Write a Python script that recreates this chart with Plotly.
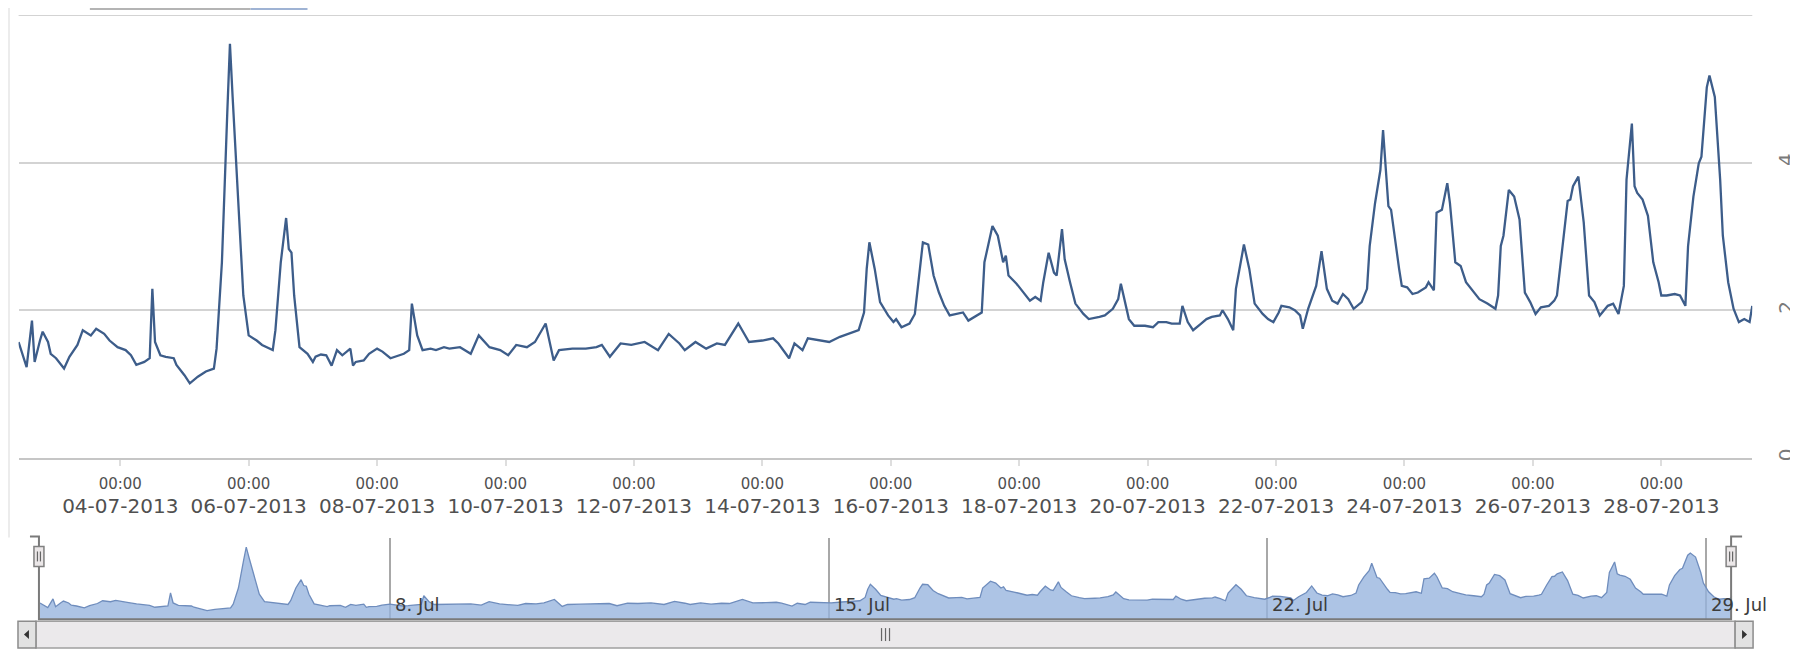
import pandas as pd
import plotly.graph_objects as go

# ---------------- data (hours since 2013-07-02 00:00, hourly readings) ----------------
START = "2013-07-02 00:00"

HOURS_A = [10, 13, 15, 16, 18, 19, 21, 22, 24, 27, 29, 32, 34, 37, 39, 42, 44, 47, 50, 52,
           54, 57, 59, 60, 61, 63, 65, 68, 69, 72, 74, 77, 80, 83, 84, 86, 88, 89, 90, 92,
           94, 96, 99, 101, 105, 106, 108, 110, 111, 112, 113, 115, 118, 120, 121, 123, 125, 127, 129, 131,
           134, 135, 136, 139, 141, 144, 146, 149, 151, 154, 156, 157, 159, 161, 164, 166, 169, 171]
VALUES_A = [1.57, 1.23, 1.86, 1.30, 1.59, 1.71, 1.57, 1.41, 1.35, 1.21, 1.37, 1.53, 1.73, 1.66, 1.75, 1.68, 1.59, 1.50, 1.46, 1.39,
            1.26, 1.30, 1.35, 2.29, 1.57, 1.39, 1.37, 1.35, 1.26, 1.12, 1.01, 1.10, 1.17, 1.21, 1.48, 2.65, 4.67, 5.61, 4.89, 3.54,
            2.20, 1.66, 1.59, 1.53, 1.46, 1.73, 2.65, 3.25, 2.83, 2.78, 2.20, 1.50, 1.41, 1.30, 1.37, 1.40, 1.39, 1.25, 1.46, 1.39,
            1.48, 1.25, 1.30, 1.32, 1.41, 1.48, 1.44, 1.35, 1.37, 1.41, 1.46, 2.09, 1.66, 1.46, 1.48, 1.46, 1.50, 1.48]

HOURS_B = [175, 179, 182, 186, 190, 193, 196, 200, 203, 207, 210, 212, 217, 222, 226, 228, 231, 235, 239, 244,
           249, 253, 257, 259, 263, 267, 271, 274, 279, 283, 288, 292, 294, 298, 300, 303, 305, 309, 313, 317,
           320, 324, 326, 327, 328]
VALUES_B = [1.50, 1.41, 1.66, 1.50, 1.46, 1.39, 1.53, 1.50, 1.57, 1.82, 1.32, 1.46, 1.48, 1.48, 1.50, 1.53, 1.37, 1.55, 1.53, 1.57,
            1.46, 1.68, 1.55, 1.46, 1.57, 1.48, 1.55, 1.53, 1.82, 1.57, 1.59, 1.62, 1.55, 1.35, 1.55, 1.46, 1.62, 1.59, 1.57, 1.64,
            1.68, 1.73, 1.97, 2.56, 2.92]

HOURS_C = [330, 332, 335, 337, 338, 340, 343, 345, 347, 348, 350, 352, 354, 356, 358, 361, 363, 365, 368, 370,
           371, 373, 374, 376, 378, 379, 380, 383, 385, 388, 390, 392, 393, 395, 397, 398, 400, 401, 403, 405,
           408, 410, 414, 416, 419, 421, 422, 424, 425, 427, 431, 434, 436, 439, 441, 444, 445, 447, 449, 452,
           454, 456, 459, 460, 462, 464, 465, 467, 468, 470, 472, 475, 477, 479, 481, 482, 485, 487, 489, 490,
           492]
VALUES_C = [2.56, 2.11, 1.93, 1.84, 1.88, 1.77, 1.82, 1.95, 2.65, 2.92, 2.89, 2.47, 2.24, 2.06, 1.93, 1.95, 1.97, 1.86, 1.93, 1.97,
            2.65, 3.01, 3.14, 3.01, 2.65, 2.74, 2.47, 2.36, 2.27, 2.13, 2.18, 2.13, 2.38, 2.78, 2.51, 2.47, 3.10, 2.69, 2.38, 2.09,
            1.95, 1.88, 1.91, 1.93, 2.02, 2.15, 2.36, 2.06, 1.88, 1.79, 1.79, 1.77, 1.84, 1.84, 1.82, 1.82, 2.06, 1.84, 1.73, 1.82,
            1.88, 1.91, 1.93, 2.00, 1.88, 1.73, 2.29, 2.69, 2.89, 2.56, 2.09, 1.95, 1.88, 1.84, 1.97, 2.06, 2.04, 2.00, 1.93, 1.75,
            2.02]

HOURS_D = [495, 497, 499, 501, 503, 505, 507, 509, 512, 514, 515, 517, 519, 520, 522, 523, 526, 527, 529, 531,
           533, 536, 537, 539, 540, 542, 544, 545, 547, 549, 551, 554, 556, 559, 562, 563, 564, 565, 567, 569,
           571, 573, 575, 577, 579, 582, 584, 585, 587, 589, 590, 591, 593, 595, 597, 599, 601, 604, 606, 608,
           610, 611, 613, 614, 615, 617, 619, 621, 623, 624, 626, 629, 631, 633, 634, 636, 638, 639, 641, 642,
           644, 646, 647, 649, 651, 653, 655, 657, 658]
VALUES_D = [2.33, 2.80, 2.29, 2.13, 2.09, 2.22, 2.15, 2.02, 2.11, 2.29, 2.87, 3.45, 3.90, 4.44, 3.41, 3.36, 2.56, 2.33, 2.31, 2.22,
            2.24, 2.31, 2.38, 2.27, 3.32, 3.36, 3.72, 3.45, 2.65, 2.60, 2.38, 2.24, 2.15, 2.09, 2.02, 2.20, 2.87, 3.01, 3.63, 3.54,
            3.23, 2.24, 2.11, 1.95, 2.04, 2.06, 2.13, 2.20, 2.87, 3.48, 3.50, 3.68, 3.81, 3.19, 2.20, 2.11, 1.93, 2.06, 2.09, 1.95,
            2.33, 3.77, 4.53, 3.68, 3.59, 3.50, 3.28, 2.65, 2.38, 2.20, 2.20, 2.22, 2.20, 2.06, 2.87, 3.54, 3.99, 4.08, 5.02, 5.18,
            4.89, 3.77, 3.01, 2.38, 2.02, 1.84, 1.88, 1.84, 2.06]

HOURS = HOURS_A + HOURS_B + HOURS_C + HOURS_D
VALUES = VALUES_A + VALUES_B + VALUES_C + VALUES_D
assert len(HOURS) == len(VALUES)

TICK_DATES = ["2013-07-04", "2013-07-06", "2013-07-08", "2013-07-10", "2013-07-12", "2013-07-14", "2013-07-16",
              "2013-07-18", "2013-07-20", "2013-07-22", "2013-07-24", "2013-07-26", "2013-07-28"]
TICK_DATE_LABELS = ["04-07-2013", "06-07-2013", "08-07-2013", "10-07-2013", "12-07-2013", "14-07-2013", "16-07-2013",
                    "18-07-2013", "20-07-2013", "22-07-2013", "24-07-2013", "26-07-2013", "28-07-2013"]
TICK_TIME_LABEL = "00:00"

Y_TICKS = [0, 2, 4]
Y_LABELS = ["0", "2", "4"]
Y_TOP = 6

NAV_DATES = ["2013-07-08", "2013-07-15", "2013-07-22", "2013-07-29"]
NAV_LABELS = ["8. Jul", "15. Jul", "22. Jul", "29. Jul"]

# ---------------- layout helpers (screen pixel -> paper; page body has an 8px margin) ----------------
OFF = 8
W, H = 1798 - OFF, 653 - OFF


def fx(p):
    return (p - OFF) / W


def fy(p):
    return 1 - (p - OFF) / H


times = pd.Timestamp(START) + pd.to_timedelta(HOURS, unit="h")

fig = go.Figure()

fig.add_trace(go.Scatter(
    x=times, y=VALUES, mode="lines", xaxis="x", yaxis="y",
    line=dict(color="#3d5d8a", width=2.3), hoverinfo="skip", showlegend=False))

fig.add_trace(go.Scatter(
    x=times, y=VALUES, mode="lines", xaxis="x2", yaxis="y2", fill="tozeroy",
    fillcolor="rgba(150,180,222,0.78)", line=dict(color="#6f8dbd", width=1.3),
    hoverinfo="skip", showlegend=False))

ticktext = [f"<span style='font-size:15px'>{TICK_TIME_LABEL}</span><br>"
            f"<span style='font-size:20px'>{d}</span>" for d in TICK_DATE_LABELS]

MAIN_X = [fx(18.6), fx(1755.2)]

fig.update_layout(
    width=W, height=H, margin=dict(l=0, r=0, t=0, b=0),
    paper_bgcolor="white", plot_bgcolor="white",
    font=dict(family="DejaVu Sans", color="#4a4a4a"),
    xaxis=dict(
        domain=MAIN_X, anchor="y", type="date",
        range=[times[0], times[-1]],
        tickmode="array", tickvals=TICK_DATES, ticktext=ticktext,
        tickfont=dict(size=19, color="#505050", family="DejaVu Sans"),
        showgrid=False, zeroline=False,
        showline=True, linecolor="#c6c6c6", linewidth=2,
        ticks="outside", ticklen=6, tickcolor="#dedede", tickwidth=2,
    ),
    yaxis=dict(
        domain=[fy(460), fy(15)], anchor="x", range=[0, Y_TOP], side="right",
        tickmode="array", tickvals=Y_TICKS, ticktext=Y_LABELS,
        tickangle=-90, tickfont=dict(size=20, color="#7a7a7a"),
        showgrid=True, gridcolor="#d3d3d3", gridwidth=2, zeroline=False,
        ticks="", ticklabelstandoff=20,
    ),
    xaxis2=dict(
        domain=[fx(40), fx(1735)], anchor="y2", type="date",
        range=[times[0], times[-1]],
        tickmode="array", tickvals=NAV_DATES, showticklabels=False,
        showgrid=True, gridcolor="#a8a8a8", gridwidth=1.5, zeroline=False, showline=False,
    ),
    yaxis2=dict(
        domain=[fy(622), fy(540)], anchor="x2", range=[0.4, 6.3],
        showgrid=False, zeroline=False, showticklabels=False, showline=False,
    ),
)

for d, lab in zip(NAV_DATES, NAV_LABELS):
    fig.add_annotation(x=d, xref="x2", y=fy(607), yref="paper", text=lab, showarrow=False,
                       xanchor="left", yanchor="middle", xshift=3,
                       font=dict(size=18, color="#3c3c3c", family="DejaVu Sans"))

shapes = []
# top grid line (y = 6)
shapes.append(dict(type="line", xref="paper", yref="y", x0=MAIN_X[0], x1=MAIN_X[1], y0=Y_TOP, y1=Y_TOP,
                   line=dict(color="#d3d3d3", width=2)))
# faint container edge on the left
shapes.append(dict(type="line", xref="paper", yref="paper", x0=fx(9), x1=fx(9), y0=fy(8), y1=fy(540),
                   line=dict(color="#ececec", width=2)))
# range selector remnants at the very top
shapes.append(dict(type="rect", xref="paper", yref="paper", x0=fx(90), x1=fx(251), y0=fy(8), y1=fy(10),
                   fillcolor="#b4b4b4", line=dict(width=0)))
shapes.append(dict(type="rect", xref="paper", yref="paper", x0=fx(251), x1=fx(308), y0=fy(8), y1=fy(10),
                   fillcolor="#9fb3d4", line=dict(width=0)))

# scrollbar
sb_top, sb_bot = 624, 651
shapes.append(dict(type="rect", xref="paper", yref="paper", x0=fx(36), x1=fx(1738), y0=fy(sb_bot), y1=fy(sb_top),
                   fillcolor="#ebe9eb", line=dict(color="#a0a0a0", width=1.5)))
for x0, x1 in [(18, 36), (1738, 1756)]:
    shapes.append(dict(type="rect", xref="paper", yref="paper", x0=fx(x0), x1=fx(x1), y0=fy(sb_bot), y1=fy(sb_top),
                       fillcolor="#e2e2e2", line=dict(color="#8c8c8c", width=1.5)))
# arrows
shapes.append(dict(type="path", xref="paper", yref="paper",
                   path=f"M {fx(24)} {fy(637.5)} L {fx(29)} {fy(633)} L {fx(29)} {fy(642)} Z",
                   fillcolor="#333", line=dict(width=0)))
shapes.append(dict(type="path", xref="paper", yref="paper",
                   path=f"M {fx(1750)} {fy(637.5)} L {fx(1745)} {fy(633)} L {fx(1745)} {fy(642)} Z",
                   fillcolor="#333", line=dict(width=0)))
# grip
for gx in (883, 887, 891):
    shapes.append(dict(type="line", xref="paper", yref="paper", x0=fx(gx), x1=fx(gx), y0=fy(631), y1=fy(644),
                       line=dict(color="#666", width=1.2)))

# navigator outline
shapes.append(dict(type="path", xref="paper", yref="paper",
                   path=(f"M {fx(30)} {fy(539)} L {fx(39)} {fy(539)} L {fx(39)} {fy(622)} "
                         f"L {fx(1734)} {fy(622)} L {fx(1734)} {fy(539)} L {fx(1745)} {fy(539)}"),
                   line=dict(color="#7a7a7a", width=2)))

# navigator handles
for cx in (39, 1734):
    shapes.append(dict(type="rect", xref="paper", yref="paper", x0=fx(cx - 5), x1=fx(cx + 5), y0=fy(569), y1=fy(549),
                       fillcolor="#ebe7e8", line=dict(color="#808080", width=1.5)))
    for gx in (cx - 1.5, cx + 1.5):
        shapes.append(dict(type="line", xref="paper", yref="paper", x0=fx(gx), x1=fx(gx), y0=fy(554), y1=fy(564),
                           line=dict(color="#666", width=1.2)))

fig.update_layout(shapes=shapes)

fig.write_html("out.html", config={"displayModeBar": False})
